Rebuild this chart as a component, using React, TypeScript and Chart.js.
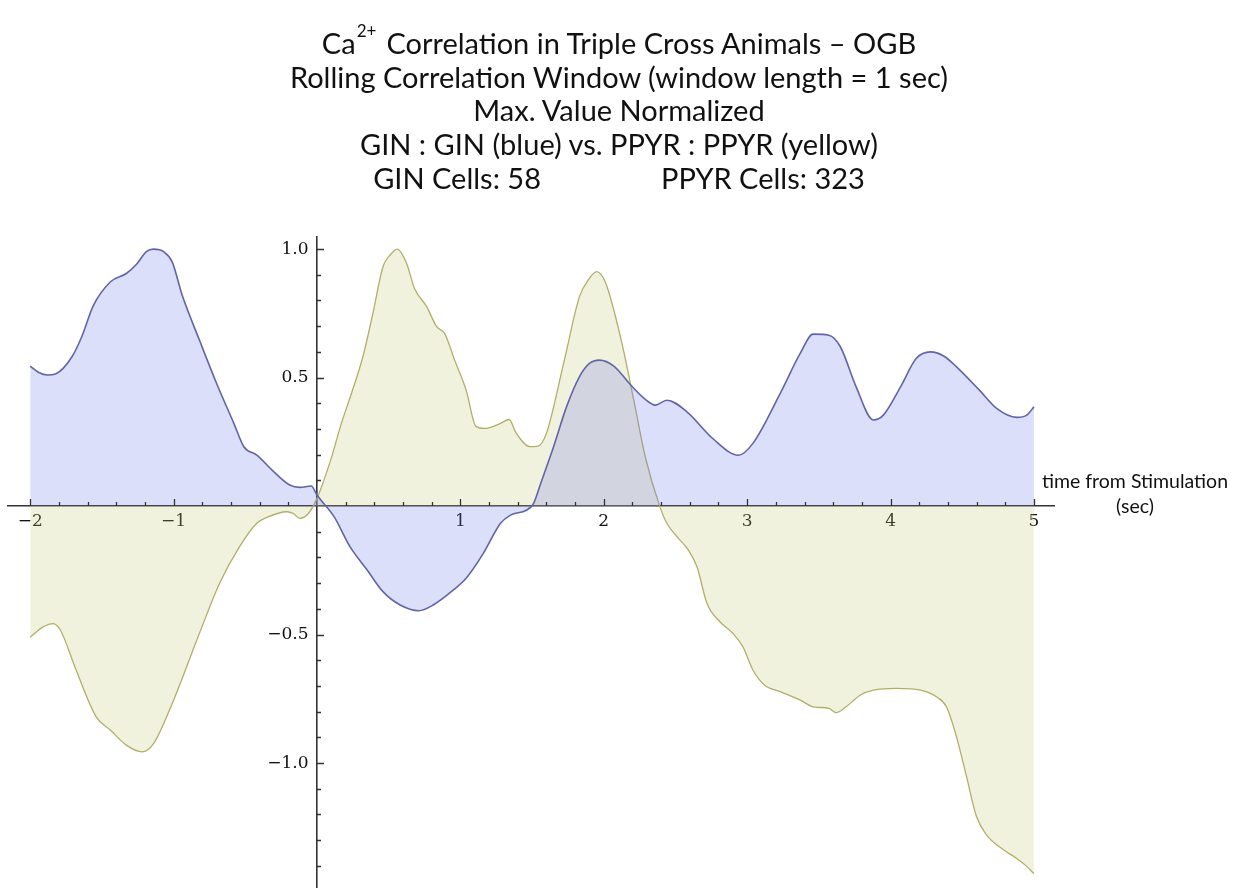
import React, { useEffect, useRef } from "react";
import { Chart, registerables } from "chart.js";

Chart.register(...registerables);

// GIN : GIN (blue)
const ginTime = [
  -2.0, -1.94, -1.88, -1.82, -1.71, -1.64, -1.56, -1.44, -1.33, -1.26, -1.19, -1.14, -1.07, -1.01,
  -0.94, -0.82, -0.7, -0.58, -0.51, -0.42, -0.3, -0.19, -0.12, -0.04, 0.0, 0.12, 0.23, 0.35, 0.46,
  0.58, 0.71, 0.81, 0.95, 1.04, 1.16, 1.28, 1.35, 1.46, 1.51, 1.56, 1.65, 1.74, 1.83, 1.9, 1.97,
  2.07, 2.19, 2.28, 2.36, 2.44, 2.58, 2.76, 2.94, 3.04, 3.23, 3.37, 3.46, 3.57, 3.65, 3.76, 3.88,
  3.95, 4.07, 4.18, 4.28, 4.37, 4.46, 4.62, 4.74, 4.88, 4.95, 5.0,
];
const ginValue = [
  0.545, 0.52, 0.51, 0.515, 0.58, 0.66, 0.78, 0.873, 0.905, 0.94, 0.99, 1.0, 0.99, 0.95,
  0.82, 0.646, 0.477, 0.322, 0.231, 0.198, 0.133, 0.082, 0.073, 0.078, 0.043, -0.042, -0.158, -0.249, -0.333,
  -0.385, -0.407, -0.385, -0.327, -0.281, -0.184, -0.067, -0.035, -0.016, 0.01, 0.088, 0.231, 0.386, 0.503, 0.555, 0.568,
  0.545, 0.47, 0.42, 0.393, 0.412, 0.367, 0.263, 0.198, 0.244, 0.438, 0.594, 0.669, 0.665, 0.62, 0.464, 0.335,
  0.354, 0.464, 0.575, 0.6, 0.584, 0.542, 0.451, 0.38, 0.345, 0.354, 0.386,
];

// PPYR : PPYR (yellow)
const ppyrTime = [
  -2.0, -1.91, -1.84, -1.79, -1.68, -1.54, -1.44, -1.33, -1.22, -1.14, -1.0, -0.82, -0.68, -0.54,
  -0.42, -0.35, -0.21, -0.165, -0.12, -0.06, 0.0, 0.09, 0.17, 0.24, 0.32, 0.39, 0.46, 0.51, 0.56,
  0.625, 0.68, 0.765, 0.835, 0.89, 0.96, 1.04, 1.11, 1.17, 1.28, 1.34, 1.39, 1.485, 1.54, 1.6,
  1.72, 1.83, 1.9, 1.95, 2.01, 2.07, 2.14, 2.21, 2.29, 2.39, 2.44, 2.51, 2.59, 2.65, 2.72, 2.81,
  2.9, 2.97, 3.04, 3.12, 3.23, 3.37, 3.46, 3.57, 3.62, 3.69, 3.79, 3.88, 4.04, 4.21, 4.32, 4.39,
  4.46, 4.53, 4.6, 4.67, 4.79, 4.88, 4.94, 5.0,
];
const ppyrValue = [
  -0.51, -0.47, -0.457, -0.482, -0.638, -0.82, -0.872, -0.93, -0.956, -0.924, -0.755, -0.495, -0.301, -0.158,
  -0.067, -0.044, -0.022, -0.029, -0.048, -0.029, 0.03, 0.17, 0.322, 0.438, 0.581, 0.75, 0.931, 0.977, 1.0,
  0.944, 0.847, 0.776, 0.698, 0.672, 0.568, 0.451, 0.309, 0.302, 0.322, 0.337, 0.283, 0.231, 0.233, 0.283,
  0.555, 0.814, 0.886, 0.912, 0.873, 0.763, 0.6, 0.41, 0.19, 0.0, -0.067, -0.119, -0.171, -0.236, -0.379, -0.45,
  -0.495, -0.547, -0.638, -0.696, -0.722, -0.755, -0.781, -0.787, -0.804, -0.781, -0.735, -0.716, -0.709, -0.716, -0.742, -0.781,
  -0.898, -1.053, -1.209, -1.28, -1.338, -1.371, -1.397, -1.43,
];

const xTickValues = [-2, -1, 1, 2, 3, 4, 5];
const yTickValues = [1.0, 0.5, -0.5, -1.0];

const titleLines = [
  "Rolling Correlation Window (window length = 1 sec)",
  "Max. Value Normalized",
  "GIN : GIN (blue) vs. PPYR : PPYR (yellow)",
];

const fmt = (v: number, digits: number) => {
  const s = Math.abs(v).toFixed(digits);
  return v < 0 ? "\u2212" + s : s;
};

const zeroPad = (s: any) => {
  s.paddingTop = 0;
  s.paddingBottom = 0;
  s.paddingLeft = 0;
  s.paddingRight = 0;
};

const tickPlugin = {
  id: "mmaTicks",
  afterDraw(chart: any) {
    const { ctx } = chart;
    const xs = chart.scales.x;
    const ys = chart.scales.y;
    const x0 = xs.getPixelForValue(0);
    const y0 = ys.getPixelForValue(0);
    ctx.save();
    ctx.strokeStyle = "#333333";
    ctx.lineWidth = 1.3;
    ctx.beginPath();
    for (let i = -10; i <= 25; i++) {
      if (i === 0) continue;
      const v = i * 0.2;
      const px = Math.round(xs.getPixelForValue(v)) + 0.5;
      const len = i % 5 === 0 ? 7 : 4;
      ctx.moveTo(px, y0);
      ctx.lineTo(px, y0 - len);
    }
    for (let i = -14; i <= 10; i++) {
      if (i === 0) continue;
      const v = i * 0.1;
      const py = Math.round(ys.getPixelForValue(v)) + 0.5;
      const len = i % 5 === 0 ? 7 : 4;
      ctx.moveTo(x0, py);
      ctx.lineTo(x0 + len, py);
    }
    ctx.stroke();
    ctx.restore();
  },
};

export default function App() {
  const canvasRef = useRef<HTMLCanvasElement | null>(null);

  useEffect(() => {
    const canvas = canvasRef.current;
    if (!canvas) return;
    const chart = new Chart(canvas, {
      type: "line",
      data: {
        datasets: [
          {
            label: "GIN : GIN",
            data: ginTime.map((t, i) => ({ x: t, y: ginValue[i] })),
            borderColor: "rgb(98,100,168)",
            backgroundColor: "rgba(108,122,230,0.24)",
            borderWidth: 1.6,
            pointRadius: 0,
            fill: "origin",
            cubicInterpolationMode: "monotone",
          },
          {
            label: "PPYR : PPYR",
            data: ppyrTime.map((t, i) => ({ x: t, y: ppyrValue[i] })),
            borderColor: "rgb(178,174,105)",
            backgroundColor: "rgba(200,205,120,0.25)",
            borderWidth: 1.3,
            pointRadius: 0,
            fill: "origin",
            cubicInterpolationMode: "monotone",
          },
        ],
      },
      options: {
        animation: false,
        responsive: false,
        devicePixelRatio: 1,
        layout: { padding: { left: 8, right: 184, top: 237, bottom: 0 } },
        plugins: {
          legend: { display: false },
          title: { display: false },
          tooltip: { enabled: false },
        },
        scales: {
          x: {
            type: "linear",
            min: -2.155,
            max: 5.14,
            position: { y: 0 },
            z: 1,
            grid: { display: false, drawTicks: false },
            border: { display: true, color: "#333333", width: 1.6 },
            afterBuildTicks: (scale: any) => {
              scale.ticks = xTickValues.map((v) => ({ value: v }));
            },
            afterFit: zeroPad,
            ticks: {
              autoSkip: false,
              maxRotation: 0,
              padding: 5,
              color: "#111111",
              font: { family: "'DejaVu Serif', serif", size: 17 },
              callback: (v: any) => fmt(Number(v), 0),
            },
          },
          y: {
            type: "linear",
            min: -1.486,
            max: 1.047,
            position: { x: 0 },
            z: 1,
            grid: { display: false, drawTicks: false },
            border: { display: true, color: "#333333", width: 1.6 },
            afterBuildTicks: (scale: any) => {
              scale.ticks = yTickValues.map((v) => ({ value: v }));
            },
            afterFit: zeroPad,
            ticks: {
              autoSkip: false,
              padding: 6,
              color: "#111111",
              font: { family: "'DejaVu Serif', serif", size: 17 },
              callback: (v: any) => fmt(Number(v), 1) + "\u2002",
            },
          },
        },
      },
      plugins: [tickPlugin],
    });
    return () => chart.destroy();
  }, []);

  const titleFont = "Lato, 'Open Sans', sans-serif";
  return (
    <div
      style={{
        position: "fixed",
        left: 0,
        top: 0,
        width: 1238,
        height: 888,
        background: "#ffffff",
        overflow: "hidden",
      }}
    >
      <canvas
        ref={canvasRef}
        width={1238}
        height={888}
        style={{ position: "absolute", left: 0, top: 0, width: 1238, height: 888 }}
      />
      <div
        style={{
          position: "absolute",
          left: 0,
          top: 26,
          width: 1238,
          textAlign: "center",
          fontFamily: titleFont,
          fontSize: 29,
          lineHeight: "33.7px",
          color: "#111111",
        }}
      >
        <div>
          Ca
          <sup style={{ fontSize: 17, verticalAlign: "top", position: "relative", top: -12, marginLeft: 1, marginRight: 10 }}>
            2+
          </sup>
          Correlation in Triple Cross Animals – OGB
        </div>
        {titleLines.map((l) => (
          <div key={l}>{l}</div>
        ))}
        <div>
          <span style={{ display: "inline-block", marginRight: 120 }}>GIN Cells: 58</span>
          <span>PPYR Cells: 323</span>
        </div>
      </div>
      <div
        style={{
          position: "absolute",
          left: 1030,
          top: 468,
          width: 210,
          textAlign: "center",
          fontFamily: titleFont,
          fontSize: 19.5,
          lineHeight: "25px",
          color: "#111111",
        }}
      >
        time from Stimulation
        <br />
        (sec)
      </div>
    </div>
  );
}
